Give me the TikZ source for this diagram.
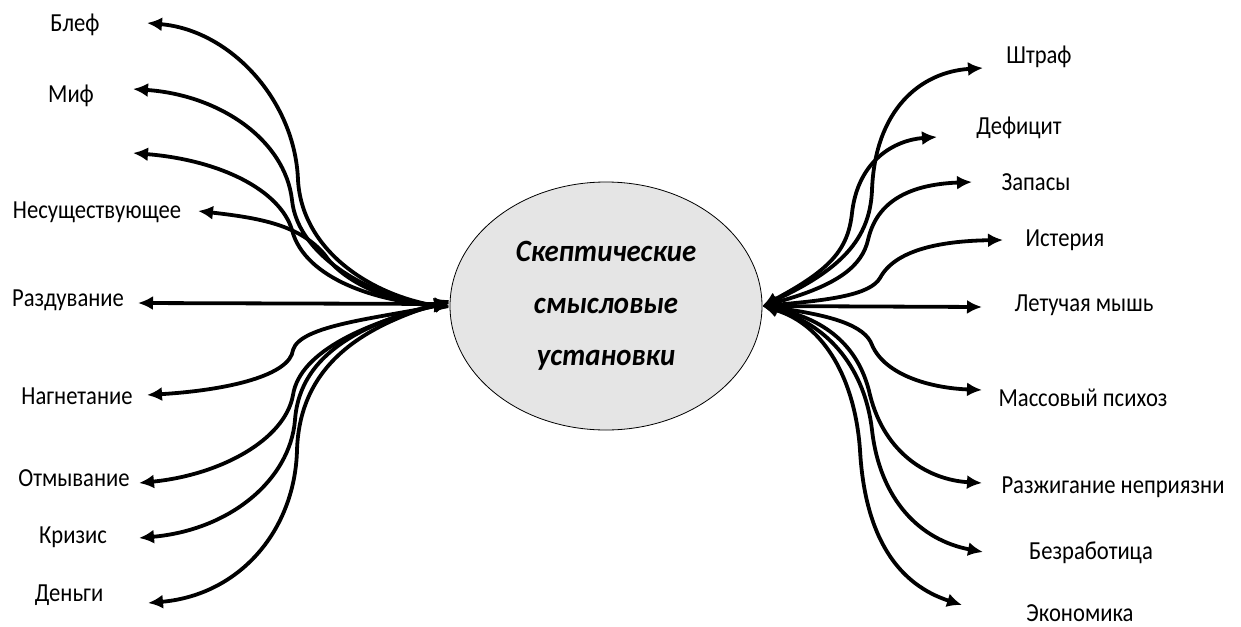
\documentclass[tikz,border=0pt]{standalone}
\usepackage{fontspec}
\setmainfont{Carlito}
\newfontfamily\lblfont[FakeStretch=0.87]{Carlito}
\newfontfamily\corefont[FakeStretch=0.93]{Carlito}
\usetikzlibrary{arrows.meta,shapes.geometric}
\begin{document}
\begin{tikzpicture}[x=1pt,y=-1pt,
  lbl/.style={font=\lblfont\fontsize{26}{30}\selectfont, anchor=center, inner sep=0pt},
  conn/.style={line width=3.8pt, {Latex[length=15pt,width=14pt]}-{Latex[length=15pt,width=14pt]}},
  core/.style={ellipse, draw=black, line width=0.8pt, fill=black!10, minimum width=312pt, minimum height=248pt, inner sep=0pt,
    font=\corefont\fontsize{31}{52}\selectfont\bfseries\itshape, align=center}]
\useasboundingbox (0,0) rectangle (1241,626);
% centre
\node[core] (c) at (606,306) {Скептические\\смысловые\\установки};
% left labels
\node[lbl] (blef) at (75,25) {Блеф};
\node[lbl] (mif) at (71,96) {Миф};
\node[lbl] (nesu) at (97,212) {Несуществующее};
\node[lbl] (razd) at (68,300) {Раздувание};
\node[lbl] (nagn) at (77,396) {Нагнетание};
\node[lbl] (otmy) at (74,478) {Отмывание};
\node[lbl] (kriz) at (73,537) {Кризис};
\node[lbl] (deng) at (69,595) {Деньги};
% right labels
\node[lbl] (shtr) at (1039,57) {Штраф};
\node[lbl] (defi) at (1019,128) {Дефицит};
\node[lbl] (zapa) at (1036,182) {Запасы};
\node[lbl] (ister) at (1065,240) {Истерия};
\node[lbl] (letu) at (1084,305) {Летучая мышь};
\node[lbl] (mass) at (1083,398) {Массовый психоз};
\node[lbl] (razj) at (1113,487) {Разжигание неприязни};
\node[lbl] (bezr) at (1091,553) {Безработица};
\node[lbl] (econ) at (1080,613) {Экономика};
% arrow tips
\coordinate (tBlef) at (147,23);
\coordinate (tMif) at (133,89);
\coordinate (tEmpty) at (133,153);
\coordinate (tNesu) at (198,211);
\coordinate (tRazd) at (138,303);
\coordinate (tNagn) at (147,395);
\coordinate (tOtmy) at (139,483);
\coordinate (tKriz) at (139,538);
\coordinate (tDeng) at (148,603);
\coordinate (tShtr) at (983,68);
\coordinate (tDefi) at (937,137);
\coordinate (tZapa) at (972,182);
\coordinate (tIster) at (1003,240);
\coordinate (tLetu) at (982,307);
\coordinate (tMass) at (982,390);
\coordinate (tRazj) at (982,483);
\coordinate (tBezr) at (983,552);
\coordinate (tEcon) at (962,605);
% left connectors
\draw[conn] (tBlef) .. controls (230,30) and (295,100) .. (298,180) .. controls (302,250) and (370,295) .. ([yshift=-2pt]c.west);
\draw[conn] (tMif) .. controls (220,95) and (285,140) .. (292,200) .. controls (298,260) and (380,300) .. ([yshift=-1pt]c.west);
\draw[conn] (tEmpty) .. controls (220,160) and (280,190) .. (292,230) .. controls (305,280) and (380,302) .. (c.west);
\draw[conn] (tNesu) .. controls (260,218) and (300,225) .. (325,255) .. controls (345,285) and (400,305) .. (c.west);
\draw[conn] (tRazd) -- ([yshift=2pt]c.west);
\draw[conn] (tNagn) .. controls (230,390) and (290,375) .. (293,350) .. controls (300,325) and (380,318) .. ([yshift=3pt]c.west);
\draw[conn] (tOtmy) .. controls (220,475) and (285,440) .. (293,395) .. controls (300,350) and (370,322) .. ([yshift=4pt]c.west);
\draw[conn] (tKriz) .. controls (230,530) and (290,480) .. (295,420) .. controls (300,350) and (370,322) .. ([yshift=5pt]c.west);
\draw[conn] (tDeng) .. controls (240,595) and (295,530) .. (297,450) .. controls (300,360) and (370,325) .. ([yshift=6pt]c.west);
% right connectors
\draw[conn] (c.east) .. controls (840,270) and (870,240) .. (872,190) .. controls (875,110) and (920,72) .. (tShtr);
\draw[conn] (c.east) .. controls (830,270) and (848,250) .. (852,213) .. controls (858,160) and (895,140) .. (tDefi);
\draw[conn] (c.east) .. controls (840,285) and (862,265) .. (868,240) .. controls (878,195) and (920,184) .. (tZapa);
\draw[conn] (c.east) .. controls (830,300) and (870,295) .. (880,278) .. controls (895,250) and (940,241) .. (tIster);
\draw[conn] (c.east) -- (tLetu);
\draw[conn] (c.east) .. controls (830,315) and (865,325) .. (872,345) .. controls (885,375) and (930,388) .. (tMass);
\draw[conn] (c.east) .. controls (830,320) and (860,350) .. (870,395) .. controls (885,455) and (930,480) .. (tRazj);
\draw[conn] (c.east) .. controls (830,325) and (865,370) .. (872,430) .. controls (880,500) and (920,540) .. (tBezr);
\draw[conn] (c.east) .. controls (825,325) and (855,380) .. (860,450) .. controls (865,540) and (900,585) .. (tEcon);
\end{tikzpicture}
\end{document}
